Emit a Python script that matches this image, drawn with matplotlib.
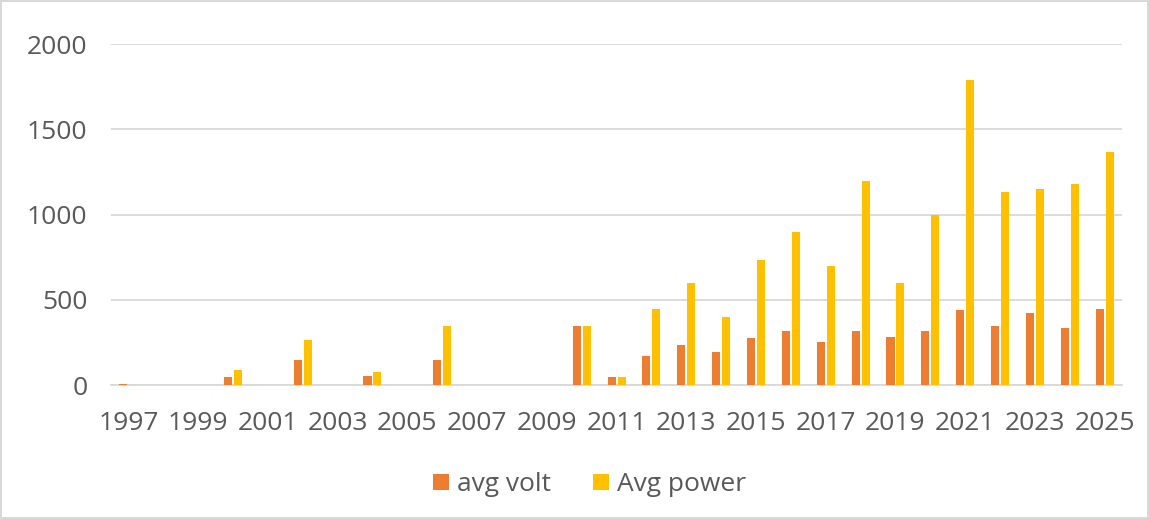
import matplotlib.pyplot as plt
import numpy as np

# данные
years = list(range(1997, 2026))
avg_volt = [8, 0, 0, 45, 0, 145, 0, 55, 0, 145, 0, 0, 0, 346, 45, 170, 235,
            195, 275, 316, 255, 318, 283, 318, 438, 345, 420, 337, 448]
avg_power = [0, 0, 0, 90, 0, 262, 0, 78, 0, 346, 0, 0, 0, 346, 45, 447, 597,
             397, 731, 899, 698, 1200, 598, 997, 1790, 1131, 1149, 1178, 1365]
tick_years = years[::2]

plt.rcParams['font.family'] = ['Open Sans', 'DejaVu Sans']
text_color = '#595959'
grid_color = '#d9d9d9'

fig = plt.figure(figsize=(11.49, 5.19), dpi=100)
fig.patch.set_edgecolor(grid_color)
fig.patch.set_linewidth(1.5)

ax = fig.add_axes([0.0966, 0.258, 0.880, 0.657])
x = np.arange(len(years))
w = 0.23
ax.bar(x - 0.143, avg_volt, width=w, color='#ED7D31', label='avg volt', zorder=3)
ax.bar(x + 0.143, avg_power, width=w, color='#FFC000', label='Avg power', zorder=3)

ax.set_xlim(-0.5, len(years) - 0.5)
ax.set_ylim(0, 2000)
ax.set_yticks([0, 500, 1000, 1500, 2000])
ax.set_xticks([years.index(y) for y in tick_years])
ax.set_xticklabels([str(y) for y in tick_years])
ax.grid(axis='y', color=grid_color, linewidth=1.3, zorder=0)
for s in ['top', 'right', 'left']:
    ax.spines[s].set_visible(False)
ax.spines['bottom'].set_color(grid_color)
ax.spines['bottom'].set_linewidth(1.3)
ax.tick_params(length=0, labelsize=19, labelcolor=text_color)
ax.tick_params(axis='y', pad=17)
ax.tick_params(axis='x', pad=19)

ax.legend(loc='center', bbox_to_anchor=(0.513, 0.066), bbox_transform=fig.transFigure,
          ncol=2, frameon=False, fontsize=19, labelcolor=text_color,
          handlelength=0.6, handleheight=0.6, handletextpad=0.3, columnspacing=1.6)

fig.savefig('out.png', dpi=100)
